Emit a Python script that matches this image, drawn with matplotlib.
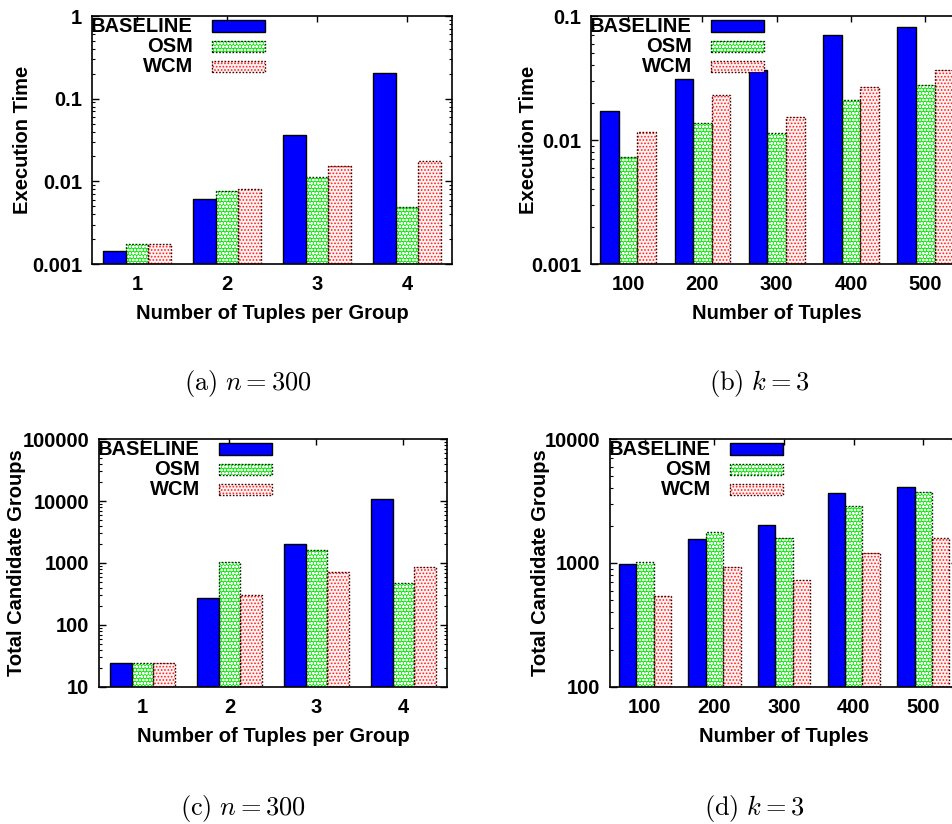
import matplotlib
matplotlib.use("Agg")
import numpy as np
import matplotlib.pyplot as plt
from matplotlib.patches import Rectangle
from matplotlib.ticker import LogLocator, NullFormatter, FuncFormatter

W, H, DPI = 953, 824, 100

plt.rcParams["font.family"] = ["Liberation Sans", "DejaVu Sans"]
plt.rcParams["font.weight"] = "bold"
plt.rcParams["font.size"] = 14.5
plt.rcParams["mathtext.fontset"] = "cm"
plt.rcParams["hatch.linewidth"] = 0.8

# ---- data -------------------------------------------------------------
series_names = ["BASELINE", "OSM", "WCM"]

group_sizes = ["1", "2", "3", "4"]
tuple_counts = ["100", "200", "300", "400", "500"]

# (a) execution time vs. tuples per group, n = 300
time_k_baseline = [0.00144, 0.00605, 0.0363, 0.206]
time_k_osm = [0.00173, 0.0077, 0.0114, 0.00485]
time_k_wcm = [0.00173, 0.0081, 0.0155, 0.0175]

# (b) execution time vs. number of tuples, k = 3
time_n_baseline = [0.0170, 0.0309, 0.0367, 0.0707, 0.0815]
time_n_osm = [0.0073, 0.0136, 0.0114, 0.0210, 0.0278]
time_n_wcm = [0.0115, 0.0229, 0.0153, 0.0266, 0.0367]

# (c) candidate groups vs. tuples per group, n = 300
cand_k_baseline = [24, 277, 2040, 10600]
cand_k_osm = [24, 1057, 1592, 472]
cand_k_wcm = [24, 306, 729, 857]

# (d) candidate groups vs. number of tuples, k = 3
cand_n_baseline = [973, 1557, 2033, 3686, 4096]
cand_n_osm = [1021, 1763, 1587, 2897, 3733]
cand_n_wcm = [543, 937, 731, 1200, 1578]

# ---- styles ------------------------------------------------------------
STYLES = [
    dict(face="#0000ff", hatch=None, hcol="#0000ff", edge="black", ls="-"),
    dict(face="#00f000", hatch="ooooo", hcol="white", edge="#002200", ls=(0, (1.2, 1.2))),
    dict(face="#fff4f4", hatch=".....", hcol="#ff2020", edge="#440000", ls=(0, (1.2, 1.2))),
]

FS = 14.5

fig = plt.figure(figsize=(W / DPI, H / DPI), dpi=DPI)


def px_rect(l, r, t, b):
    return [l / W, 1 - b / H, (r - l) / W, (b - t) / H]


def fx(x):
    return x / W


def fy(y):
    return 1 - y / H


def styled_bars(ax, x, vals, base, width, st):
    vals = np.asarray(vals, dtype=float)
    ax.bar(x, vals - base, width, bottom=base, color=st["face"],
           edgecolor=st["hcol"], hatch=st["hatch"], linewidth=0, zorder=2)
    ax.bar(x, vals - base, width, bottom=base, fill=False,
           edgecolor=st["edge"], linestyle=st["ls"], linewidth=1.0, zorder=3)


def legend_box(left, top):
    rows = [10, 30.5, 50.5]
    for name, st, dy in zip(series_names, STYLES, rows):
        fig.text(fx(left + 101), fy(top + dy), name, ha="right", va="center",
                 fontsize=FS, fontweight="bold", zorder=5)
        x0, x1 = left + 120, left + 173
        y0, y1 = top + dy - 5.8, top + dy + 5.8
        r1 = Rectangle((fx(x0), fy(y1)), fx(x1 - x0), (y1 - y0) / H,
                       transform=fig.transFigure, facecolor=st["face"],
                       edgecolor=st["hcol"], hatch=st["hatch"], linewidth=0, zorder=5)
        r2 = Rectangle((fx(x0), fy(y1)), fx(x1 - x0), (y1 - y0) / H,
                       transform=fig.transFigure, fill=False,
                       edgecolor=st["edge"], linestyle=st["ls"], linewidth=1.0, zorder=6)
        fig.add_artist(r1)
        fig.add_artist(r2)


def panel(rect_px, cats, series, ylim, xlabel, ylabel, ylabel_x, caption, cap_xy):
    l, r, t, b = rect_px
    ax = fig.add_axes(px_rect(l, r, t, b))
    n = len(cats)
    x = np.arange(1, n + 1)
    width = 0.25
    for i, (vals, st) in enumerate(zip(series, STYLES)):
        styled_bars(ax, x + (i - 1) * width, vals, ylim[0], width, st)
    ax.set_yscale("log")
    ax.set_ylim(*ylim)
    ax.set_xlim(0.5, n + 0.5)
    ax.set_xticks(x)
    ax.set_xticklabels(cats, fontweight="bold")
    ax.yaxis.set_major_locator(LogLocator(base=10, numticks=20))
    ax.yaxis.set_minor_locator(LogLocator(base=10, subs=np.arange(2, 10), numticks=20))
    ax.yaxis.set_minor_formatter(NullFormatter())
    ax.yaxis.set_major_formatter(FuncFormatter(lambda v, p: f"{v:g}"))
    ax.tick_params(axis="x", which="both", bottom=False, top=True,
                   direction="in", length=4.5, width=1, pad=8)
    ax.tick_params(axis="y", which="major", left=True, right=True,
                   direction="in", length=5, width=1, pad=7)
    ax.tick_params(axis="y", which="minor", left=True, right=True,
                   direction="in", length=2.5, width=0.8)
    for sp in ax.spines.values():
        sp.set_linewidth(1.2)
    # axis titles
    cx = (l + r) / 2
    fig.text(fx(cx), fy(b + 50), xlabel, ha="center", va="center",
             fontsize=FS, fontweight="bold")
    fig.text(fx(ylabel_x), fy((t + b) / 2), ylabel, ha="center", va="center",
             rotation=90, fontsize=FS, fontweight="bold")
    legend_box(l, t)
    fig.text(fx(cap_xy[0]), fy(cap_xy[1]), caption, ha="center", va="center",
             fontsize=19)
    return ax


panel((92, 452, 16, 264), group_sizes,
      [time_k_baseline, time_k_osm, time_k_wcm], (0.001, 1),
      "Number of Tuples per Group", "Execution Time", 23,
      r"$\mathrm{(a)}\ n = 300$", (248, 383))

panel((591, 591 + 5 * 74.3, 16, 264), tuple_counts,
      [time_n_baseline, time_n_osm, time_n_wcm], (0.001, 0.1),
      "Number of Tuples", "Execution Time", 529,
      r"$\mathrm{(b)}\ k = 3$", (759, 383))

panel((99, 447, 439, 687), group_sizes,
      [cand_k_baseline, cand_k_osm, cand_k_wcm], (10, 100000),
      "Number of Tuples per Group", "Total Candidate Groups", 17,
      r"$\mathrm{(c)}\ n = 300$", (243, 808))

panel((610, 610 + 5 * 69.6, 439, 687), tuple_counts,
      [cand_n_baseline, cand_n_osm, cand_n_wcm], (100, 10000),
      "Number of Tuples", "Total Candidate Groups", 541,
      r"$\mathrm{(d)}\ k = 3$", (754, 808))

fig.savefig("out.png", dpi=DPI)
